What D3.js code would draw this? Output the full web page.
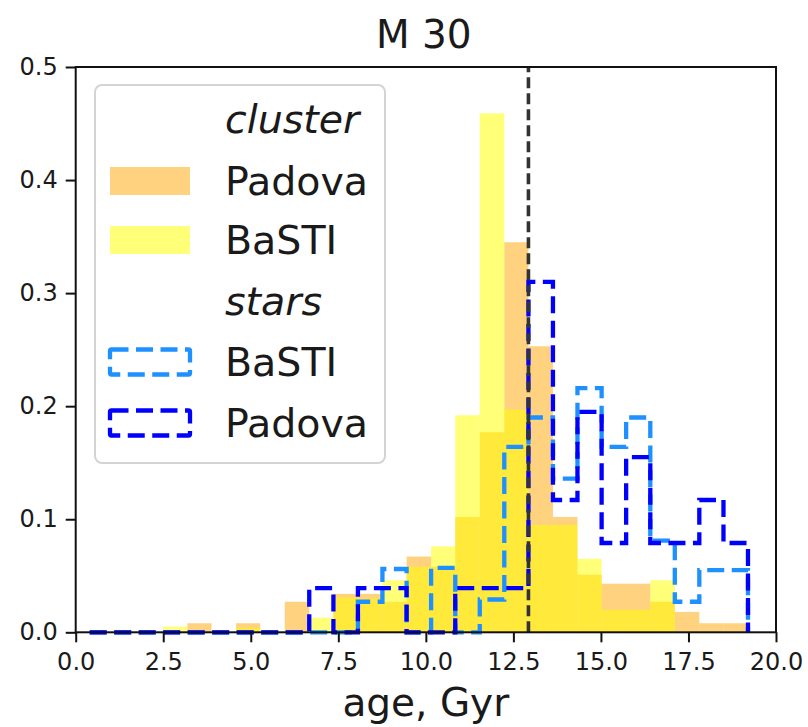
<!DOCTYPE html>
<html>
<head>
<meta charset="utf-8">
<script src="https://cdn.jsdelivr.net/npm/d3@7"></script>
<style>
  html, body { margin: 0; padding: 0; background: #fff; }
  svg { display: block; }
  text { font-family: "DejaVu Sans", sans-serif; }
</style>
</head>
<body>
<svg id="chart" width="808" height="727"></svg>
<script>
// ---- data ----
const title = "M 30";
const xLabel = "age, Gyr";
const xTicks = [0, 2.5, 5, 7.5, 10, 12.5, 15, 17.5, 20];
const yTicks = [0, 0.1, 0.2, 0.3, 0.4, 0.5];
const refAge = 12.93;

// common histogram bin edges (Gyr)
const binEdges = [0.40, 1.10, 1.79, 2.49, 3.19, 3.88, 4.58, 5.27, 5.97, 6.67, 7.36, 8.06, 8.76, 9.45,
  10.15, 10.84, 11.54, 12.24, 12.93, 13.63, 14.33, 15.02, 15.72, 16.41, 17.11, 17.81, 18.50, 19.20];

// cluster histograms (filled)
const clusterPadova = [0, 0, 0, 0, 0.008, 0, 0.008, 0, 0.027, 0, 0.034, 0.034, 0.027, 0.067,
  0.058, 0.102, 0.177, 0.345, 0.253, 0.102, 0.051, 0.043, 0.043, 0.027, 0.018, 0.008, 0.008];
const clusterBaSTI = [0, 0, 0, 0.005, 0, 0, 0.004, 0, 0, 0.013, 0.031, 0.030, 0.046, 0.058,
  0.076, 0.192, 0.459, 0.197, 0.095, 0.095, 0.065, 0.020, 0.020, 0.046, 0, 0, 0];

// stars histograms (step outlines)
const starsBaSTI = [0, 0, 0, 0, 0, 0, 0, 0, 0, 0, 0, 0.027, 0.056, 0, 0.057, 0, 0.029, 0.164,
  0.190, 0.136, 0.216, 0.164, 0.190, 0.081, 0.027, 0.055, 0.055];
const starsPadova = [0, 0, 0, 0, 0, 0, 0, 0, 0, 0.039, 0, 0.039, 0.039, 0, 0, 0.039, 0.039, 0.039,
  0.310, 0.117, 0.195, 0.079, 0.155, 0.079, 0.079, 0.117, 0.079];

const legendItems = [
  { label: "cluster", type: "header" },
  { label: "Padova", type: "patch", color: "orange", opacity: 0.5 },
  { label: "BaSTI", type: "patch", color: "yellow", opacity: 0.53 },
  { label: "stars", type: "header" },
  { label: "BaSTI", type: "step", color: "dodgerblue" },
  { label: "Padova", type: "step", color: "blue" }
];

// ---- layout ----
const svg = d3.select("#chart");
const L = 75.7, R = 776, T = 67, B = 632.3;
const x = d3.scaleLinear().domain([0, 20]).range([L, R]);
const y = d3.scaleLinear().domain([0, 0.5]).range([B, T]);

const plot = svg.append("g");

function bars(values, color, opacity) {
  const data = values.map((v, i) => ({ x0: binEdges[i], x1: binEdges[i + 1], v }))
    .filter(d => d.v > 0);
  plot.append("g").selectAll("rect").data(data).join("rect")
    .attr("x", d => x(d.x0))
    .attr("width", d => x(d.x1) - x(d.x0))
    .attr("y", d => y(d.v))
    .attr("height", d => y(0) - y(d.v))
    .attr("fill", color)
    .attr("fill-opacity", opacity);
}

bars(clusterPadova, "orange", 0.5);
bars(clusterBaSTI, "yellow", 0.53);

function step(values, color) {
  const pts = [[binEdges[0], 0]];
  values.forEach((v, i) => { pts.push([binEdges[i], v]); pts.push([binEdges[i + 1], v]); });
  pts.push([binEdges[binEdges.length - 1], 0]);
  const line = d3.line().x(d => x(d[0])).y(d => y(d[1]));
  plot.append("path")
    .attr("d", line(pts))
    .attr("fill", "none")
    .attr("stroke", color)
    .attr("stroke-width", 4.3)
    .attr("stroke-dasharray", "17,7.5")
    .attr("stroke-linejoin", "miter");
}

step(starsBaSTI, "dodgerblue");
step(starsPadova, "blue");

// reference age line
plot.append("line")
  .attr("x1", x(refAge)).attr("x2", x(refAge))
  .attr("y1", y(0)).attr("y2", y(0.5))
  .attr("stroke", "#333")
  .attr("stroke-width", 3.6)
  .attr("stroke-dasharray", "11,5");

// ---- axes ----
const fmt = d3.format(".1f");
const xAxis = svg.append("g").attr("transform", `translate(0,${B})`)
  .call(d3.axisBottom(x).tickValues(xTicks).tickFormat(fmt).tickSize(10).tickPadding(11));
const yAxis = svg.append("g").attr("transform", `translate(${L},0)`)
  .call(d3.axisLeft(y).tickValues(yTicks).tickFormat(fmt).tickSize(10).tickPadding(8));
[xAxis, yAxis].forEach(a => {
  a.select(".domain").remove();
  a.selectAll(".tick line").attr("stroke", "#111").attr("stroke-width", 2);
  a.selectAll(".tick text").attr("fill", "#1a1a1a").style("font-size", "24px")
    .style("font-family", "DejaVu Sans");
});

// frame
svg.append("rect")
  .attr("x", L).attr("y", T).attr("width", R - L).attr("height", B - T)
  .attr("fill", "none").attr("stroke", "#111").attr("stroke-width", 2);

// title and label
svg.append("text").attr("x", (L + R) / 2 - 2).attr("y", 48)
  .attr("text-anchor", "middle").style("font-size", "39px").attr("fill", "#1a1a1a").text(title);
svg.append("text").attr("x", (L + R) / 2).attr("y", 716)
  .attr("text-anchor", "middle").style("font-size", "39px").attr("fill", "#1a1a1a").text(xLabel);

// ---- legend ----
const lg = svg.append("g");
lg.append("rect").attr("x", 95).attr("y", 85).attr("width", 290).attr("height", 378)
  .attr("rx", 7).attr("fill", "white").attr("fill-opacity", 0.8)
  .attr("stroke", "#d4d4d4").attr("stroke-width", 2);
const rowBase = [133, 195, 254, 315, 376, 437];
legendItems.forEach((it, i) => {
  const base = rowBase[i];
  const cy = base - 14;
  if (it.type === "patch") {
    lg.append("rect").attr("x", 110).attr("y", cy - 14).attr("width", 80).attr("height", 28)
      .attr("fill", it.color).attr("fill-opacity", it.opacity);
  } else if (it.type === "step") {
    lg.append("rect").attr("x", 110).attr("y", cy - 12.5).attr("width", 80).attr("height", 25)
      .attr("fill", "none").attr("stroke", it.color).attr("stroke-width", 4.3)
      .attr("stroke-dasharray", "17,7.5").attr("rx", 1.5);
  }
  lg.append("text").attr("x", 225).attr("y", base)
    .style("font-size", "39.5px").style("font-style", it.type === "header" ? "italic" : "normal")
    .attr("fill", "#1a1a1a").text(it.label);
});
</script>
</body>
</html>
